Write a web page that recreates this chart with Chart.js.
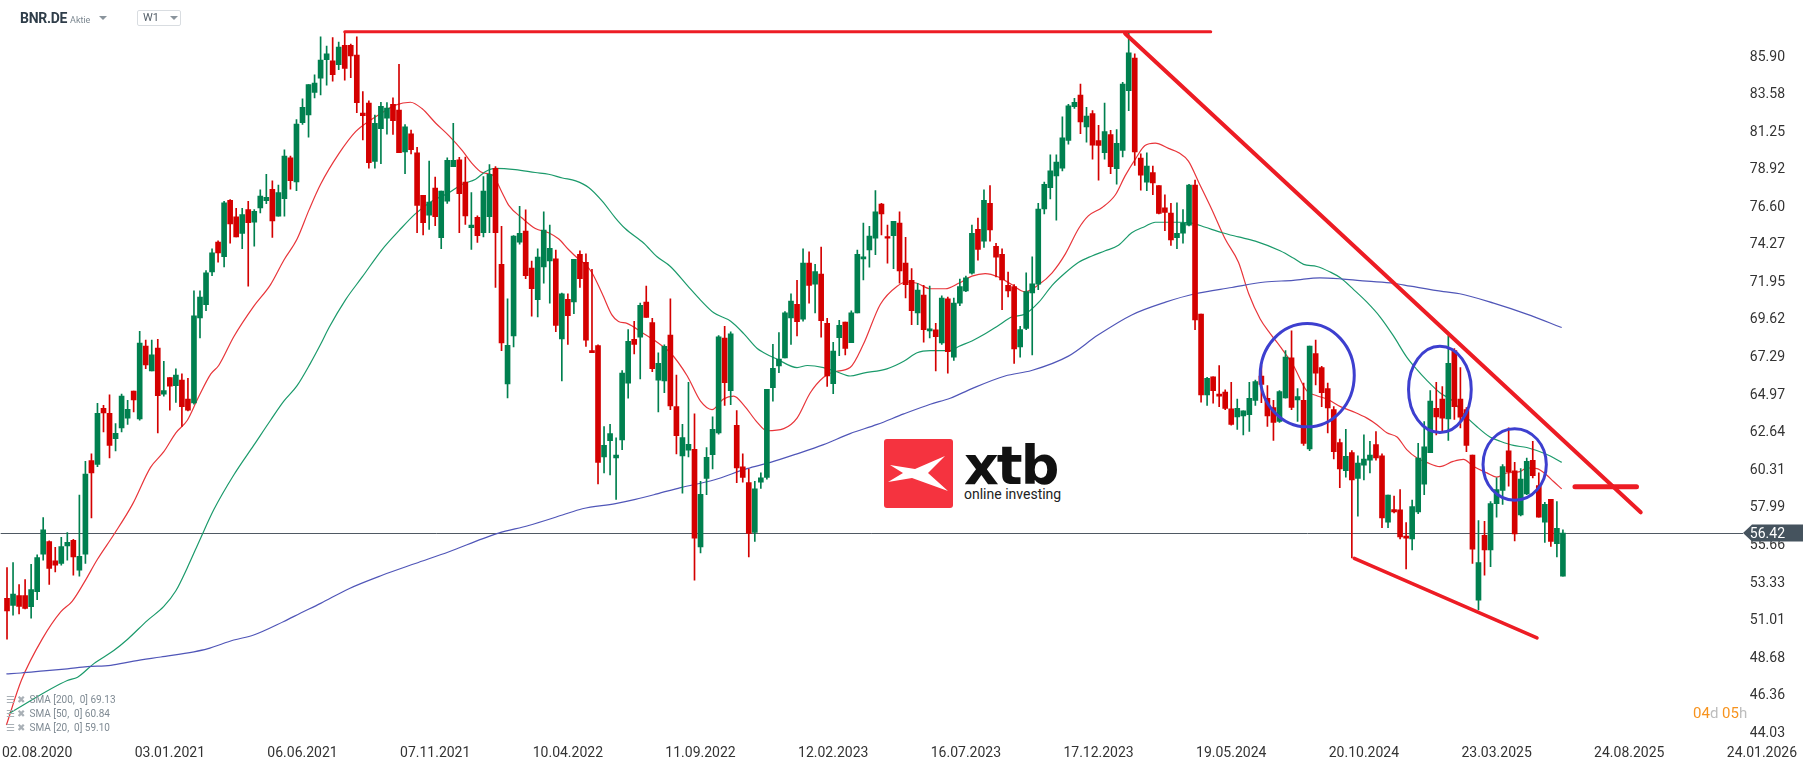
<!doctype html>
<html lang="de">
<head>
    <meta charset="utf-8">
    <title>BNR.DE - W1</title>
    <script src="https://cdn.jsdelivr.net/npm/chart.js"></script>
    <style>
        html, body { margin: 0; padding: 0; background: #fff; }
        body { width: 1815px; height: 759px; position: relative; overflow: hidden; font-family: Roboto, "Noto Sans", sans-serif; }
        #box { position: absolute; left: 0; top: 0; width: 1815px; height: 759px; z-index: 1; }
        #logo { position: absolute; left: 884px; top: 439px; z-index: 0; }
        #logo svg { position: absolute; left: 0; top: 0; }
        #logo .brand { position: absolute; left: 80px; top: 0; font: bold 54px "DejaVu Sans", sans-serif; line-height: 1; letter-spacing: -2px; color: #111; }
        #logo .sub { position: absolute; left: 80px; top: 48px; font: 14px Roboto, sans-serif; line-height: 1; color: #222; white-space: nowrap; }
        #hdr { position: absolute; left: 20px; top: 10px; z-index: 2; white-space: nowrap; line-height: 16px; }
        #hdr .sym { font: bold 14px Roboto, sans-serif; color: #2f3d49; letter-spacing: -0.3px; }
        #hdr .kind { font: 9px Roboto, sans-serif; color: #7b8790; margin-left: 3px; }
        .tri { display: inline-block; width: 0; height: 0; border-left: 4px solid transparent; border-right: 4px solid transparent; border-top: 4px solid #8a949c; vertical-align: 3px; }
        #hdr .tri { margin-left: 9px; }
        #tf { position: absolute; left: 137px; top: 10px; width: 42px; height: 14px; border: 1px solid #d9dde1; border-radius: 2px; z-index: 2; }
        #tf span { position: absolute; left: 5px; top: 1px; font: 11px Roboto, sans-serif; line-height: 1.1; color: #55606a; }
        #tf .tri { position: absolute; left: 32px; top: 5px; }
        #leg { position: absolute; left: 6px; top: 693px; z-index: 2; font: 10px Roboto, sans-serif; color: #7f8a93; line-height: 14px; }
        #leg div { white-space: nowrap; }
        #leg b { font-weight: normal; color: #a9b0b6; margin-right: 4px; }
        #timer { position: absolute; left: 1693px; top: 706px; z-index: 2; font: 15px Roboto, sans-serif; line-height: 1; white-space: nowrap; }
        #timer .n { color: #f7931e; }
        #timer .u { color: #bdbdbd; }
    </style>
</head>
<body>
<div id="logo">
    <svg width="69" height="69" viewBox="0 0 69 69">
        <rect width="69" height="69" rx="3" fill="#f5333f"/>
        <polygon points="6,26 31,30 61,17 44,34 64,52 28,39 4,43 19,34" fill="#fff"/>
    </svg>
    <div class="brand">xtb</div>
    <div class="sub">online investing</div>
</div>
<div id="box"><canvas id="chart"></canvas></div>
<div id="hdr"><span class="sym">BNR.DE</span><span class="kind">Aktie</span><span class="tri"></span></div>
<div id="tf"><span>W1</span><i class="tri"></i></div>
<div id="leg">
    <div><b>&#9776; &#10006;</b>SMA [200,&nbsp; 0] 69.13</div>
    <div><b>&#9776; &#10006;</b>SMA [50,&nbsp; 0] 60.84</div>
    <div><b>&#9776; &#10006;</b>SMA [20,&nbsp; 0] 59.10</div>
</div>
<div id="timer"><span class="n">04</span><span class="u">d</span> <span class="n">05</span><span class="u">h</span></div>

<script>
    // weekly candles, first one is 5 weeks before 02.08.2020 (week 0)
    const firstWeek = -5;

    const candleOpen = [
        52.38, 51.94, 52.56, 52.56, 51.86, 52.80, 55.12, 55.90, 54.70, 54.55,
        55.62, 55.98, 54.13, 55.12, 60.91, 60.67, 64.14, 63.83, 62.27, 62.94,
        63.54, 65.21, 63.49, 68.00, 66.47, 67.87, 65.03, 66.05, 65.55, 65.89,
        64.72, 64.48, 69.75, 70.56, 72.59, 74.44, 73.53, 77.03, 76.01, 74.97,
        76.45, 75.67, 76.56, 77.00, 77.71, 76.04, 77.13, 79.66, 78.17, 81.83,
        82.32, 83.70, 84.59, 85.74, 85.66, 85.43, 86.62, 86.62, 86.02, 82.43,
        83.05, 79.43, 81.46, 82.11, 82.97, 82.61, 80.03, 81.15, 79.97, 77.34,
        76.11, 77.78, 74.71, 76.97, 79.11, 79.53, 78.15, 75.33, 75.98, 75.02,
        76.01, 79.01, 73.06, 65.66, 68.63, 74.44, 75.12, 72.83, 70.87, 72.91,
        73.27, 73.40, 68.45, 70.90, 70.74, 73.69, 73.19, 67.72, 68.03, 61.14,
        62.14, 61.07, 62.19, 65.71, 68.42, 68.55, 70.72, 69.46, 65.89, 65.84,
        68.68, 64.25, 61.20, 61.56, 61.61, 55.56, 59.81, 61.27, 62.63, 68.50,
        65.24, 63.10, 60.52, 59.55, 56.47, 59.58, 59.87, 65.42, 66.78, 67.27,
        69.75, 70.58, 69.67, 73.14, 71.84, 72.46, 69.41, 65.68, 68.52, 69.49,
        68.21, 70.06, 73.40, 73.95, 74.68, 76.79, 74.78, 74.84, 75.62, 73.14,
        72.07, 70.06, 71.16, 68.94, 69.00, 68.19, 70.92, 67.32, 70.66, 71.42,
        72.52, 75.23, 74.50, 76.84, 74.18, 73.69, 71.76, 71.68, 67.95, 69.10,
        71.29, 71.84, 76.50, 77.81, 78.54, 79.01, 80.73, 82.82, 83.55, 81.57,
        82.40, 80.73, 79.97, 81.10, 78.98, 80.11, 83.81, 85.84, 79.64, 78.15,
        78.75, 77.94, 76.56, 76.24, 74.71, 74.99, 75.49, 77.97, 69.98, 64.98,
        66.10, 65.03, 65.16, 64.12, 63.62, 63.67, 63.75, 64.64, 66.15, 64.77,
        64.20, 63.33, 64.79, 67.27, 64.67, 64.64, 61.64, 67.53, 66.67, 65.37,
        64.07, 62.03, 60.28, 61.40, 59.81, 60.62, 60.93, 61.90, 61.20, 57.10,
        57.88, 57.86, 56.24, 56.06, 57.73, 59.45, 61.40, 64.14, 64.72, 63.49,
        67.72, 64.72, 64.07, 61.25, 52.27, 56.29, 55.38, 58.25, 59.06, 61.51,
        60.28, 57.54, 58.85, 60.93, 59.37, 57.10, 58.51, 55.77, 53.76
    ];
    const candleHigh = [
        54.29, 54.60, 53.24, 53.55, 54.49, 55.07, 57.39, 55.95, 55.54, 56.16,
        56.45, 56.03, 58.77, 60.86, 61.33, 64.46, 64.33, 64.98, 63.20, 65.03,
        64.64, 65.21, 68.92, 68.37, 68.37, 68.42, 67.06, 66.05, 66.60, 66.28,
        66.00, 71.42, 71.42, 72.67, 74.03, 74.52, 76.97, 77.08, 76.53, 76.53,
        76.97, 76.45, 77.68, 78.64, 78.23, 77.97, 80.16, 79.77, 82.03, 83.31,
        84.20, 84.80, 87.15, 86.57, 87.10, 86.83, 87.41, 86.70, 87.15, 83.76,
        83.18, 82.30, 83.10, 83.08, 83.37, 85.45, 81.72, 81.38, 80.31, 77.34,
        79.45, 78.46, 77.60, 79.66, 81.80, 79.69, 79.71, 77.50, 76.06, 78.49,
        79.24, 79.11, 75.41, 70.92, 74.84, 76.66, 76.43, 73.27, 74.03, 76.32,
        75.49, 73.95, 71.29, 71.24, 73.38, 73.90, 73.71, 72.75, 68.08, 63.02,
        63.15, 62.32, 66.49, 69.02, 69.54, 70.66, 71.71, 69.72, 67.59, 68.08,
        70.92, 66.20, 63.15, 65.76, 63.80, 59.63, 61.72, 63.62, 68.65, 69.23,
        68.89, 64.01, 61.33, 60.39, 59.63, 60.15, 65.32, 68.11, 68.84, 70.14,
        71.24, 72.07, 74.03, 73.84, 73.06, 74.13, 69.72, 68.24, 69.59, 69.49,
        70.19, 73.95, 75.62, 75.41, 77.63, 76.84, 75.49, 75.72, 76.32, 74.73,
        72.80, 71.89, 71.76, 71.71, 69.41, 71.11, 71.03, 70.98, 72.15, 72.33,
        75.49, 75.93, 77.68, 77.94, 74.37, 74.03, 72.59, 71.81, 69.23, 72.54,
        73.53, 76.84, 78.15, 79.84, 79.84, 82.19, 82.97, 83.34, 84.23, 82.79,
        82.58, 81.67, 83.05, 81.36, 81.41, 84.33, 87.41, 86.10, 79.90, 79.97,
        79.14, 77.94, 77.37, 76.84, 76.87, 76.45, 78.02, 78.28, 69.98, 66.07,
        66.10, 66.80, 65.29, 65.76, 64.72, 63.99, 65.76, 65.89, 66.80, 65.55,
        64.64, 65.24, 67.72, 68.94, 65.37, 65.71, 68.00, 68.37, 66.75, 65.71,
        64.25, 62.24, 62.84, 61.53, 61.20, 62.50, 62.11, 62.71, 61.33, 58.77,
        58.72, 59.11, 57.07, 58.46, 61.98, 63.33, 65.24, 65.76, 65.50, 68.63,
        67.85, 66.67, 64.20, 61.25, 57.20, 57.15, 58.38, 59.84, 60.67, 62.94,
        60.80, 60.41, 61.07, 62.11, 60.15, 58.33, 58.51, 58.38, 56.63
    ];
    const candleLow = [
        49.85, 51.34, 51.42, 51.72, 51.15, 52.30, 54.75, 53.24, 54.02, 54.44,
        54.75, 53.81, 53.76, 54.55, 57.36, 60.54, 62.68, 61.07, 61.51, 62.68,
        63.15, 63.93, 63.41, 66.60, 66.47, 62.63, 64.90, 64.04, 64.51, 63.02,
        63.99, 64.40, 68.50, 70.19, 72.36, 73.19, 72.91, 74.37, 74.76, 74.03,
        71.71, 74.18, 76.25, 76.82, 74.73, 76.04, 76.04, 77.71, 77.63, 81.72,
        80.94, 83.37, 83.55, 84.15, 84.41, 85.11, 84.46, 84.62, 82.45, 80.76,
        79.01, 79.01, 79.30, 81.12, 81.10, 79.97, 78.67, 79.90, 75.02, 74.89,
        75.23, 75.46, 74.03, 76.84, 79.11, 75.02, 75.54, 73.98, 74.42, 74.76,
        75.02, 71.63, 67.72, 64.79, 67.95, 74.31, 72.18, 69.86, 69.80, 71.89,
        70.66, 68.89, 65.84, 68.11, 70.01, 71.63, 67.98, 67.59, 59.47, 60.15,
        60.02, 58.51, 61.59, 64.77, 67.51, 65.97, 69.78, 66.41, 63.93, 65.11,
        64.07, 61.33, 58.90, 61.14, 53.50, 55.20, 58.80, 60.39, 62.55, 64.33,
        64.38, 59.55, 59.58, 54.94, 55.90, 59.19, 59.76, 64.59, 66.36, 67.27,
        68.11, 68.63, 69.54, 70.66, 70.06, 68.55, 65.50, 65.06, 67.40, 67.46,
        68.21, 70.06, 72.10, 72.88, 73.66, 74.89, 73.14, 72.80, 71.89, 70.98,
        69.33, 69.33, 68.24, 68.50, 66.46, 68.11, 66.33, 67.12, 70.51, 71.37,
        72.46, 73.32, 74.11, 74.50, 72.28, 70.25, 71.05, 66.93, 67.32, 69.02,
        67.46, 71.50, 76.19, 77.11, 75.80, 78.85, 80.50, 82.71, 81.15, 80.63,
        79.58, 78.28, 79.58, 78.67, 78.02, 79.71, 82.58, 79.19, 77.65, 77.63,
        77.37, 76.19, 75.15, 74.24, 74.03, 74.37, 75.44, 69.02, 64.53, 64.33,
        64.46, 64.25, 64.07, 63.10, 62.84, 62.50, 62.71, 64.33, 64.50, 63.02,
        62.16, 63.28, 64.77, 64.07, 63.33, 61.85, 61.53, 65.60, 64.25, 62.63,
        61.01, 59.24, 59.89, 54.88, 57.47, 59.71, 60.15, 60.93, 56.76, 56.76,
        57.67, 56.06, 54.21, 55.38, 57.62, 58.80, 61.40, 62.50, 62.76, 62.16,
        63.46, 62.94, 61.46, 54.55, 51.67, 53.81, 54.34, 57.41, 58.20, 59.32,
        55.93, 57.49, 58.80, 59.84, 57.41, 55.85, 55.59, 54.94, 53.76
    ];
    const candleClose = [
        51.60, 52.64, 51.88, 51.75, 52.93, 54.91, 56.63, 54.23, 54.44, 55.59,
        55.85, 54.94, 54.99, 60.07, 60.15, 63.83, 63.86, 61.85, 62.60, 64.90,
        64.09, 64.67, 68.19, 66.83, 67.46, 64.93, 65.24, 65.52, 66.20, 64.25,
        64.04, 69.88, 71.03, 72.54, 73.77, 73.77, 76.87, 75.57, 74.76, 76.14,
        75.65, 76.35, 77.29, 77.21, 75.75, 77.50, 79.77, 78.25, 81.75, 82.79,
        84.20, 84.28, 85.71, 86.10, 84.80, 86.52, 85.19, 85.97, 83.08, 82.27,
        79.35, 81.80, 82.84, 82.74, 81.96, 79.97, 81.57, 80.16, 76.71, 75.65,
        76.92, 76.01, 77.60, 79.50, 79.50, 77.44, 76.06, 75.49, 74.84, 77.60,
        78.64, 75.02, 68.19, 68.05, 74.81, 74.99, 72.36, 71.55, 73.51, 75.18,
        74.05, 69.28, 71.24, 69.88, 73.38, 72.18, 68.37, 67.59, 60.80, 61.85,
        62.58, 61.25, 66.33, 68.29, 68.11, 70.53, 69.78, 66.60, 66.93, 67.98,
        64.30, 62.45, 62.34, 61.92, 56.11, 58.82, 61.12, 62.84, 68.58, 65.73,
        68.76, 60.46, 59.87, 56.40, 59.16, 59.84, 65.32, 66.62, 67.19, 70.06,
        70.79, 69.52, 73.14, 71.76, 72.62, 69.57, 66.15, 67.69, 69.28, 67.85,
        70.06, 73.69, 73.53, 74.81, 76.32, 76.19, 74.68, 75.72, 72.65, 71.81,
        70.19, 71.47, 69.02, 69.07, 68.58, 70.98, 67.66, 70.66, 71.68, 72.23,
        74.99, 73.98, 77.03, 75.20, 73.51, 72.10, 71.42, 67.82, 69.02, 71.37,
        71.86, 76.48, 78.02, 78.85, 79.40, 80.89, 82.87, 83.10, 81.88, 82.24,
        80.44, 80.42, 81.28, 79.11, 80.55, 84.23, 86.16, 80.03, 78.59, 79.14,
        78.10, 76.22, 76.27, 74.58, 74.99, 75.62, 77.97, 69.62, 64.98, 66.00,
        65.24, 64.90, 64.14, 63.15, 64.14, 63.99, 64.77, 65.81, 65.63, 63.67,
        63.28, 65.19, 67.32, 64.20, 64.87, 61.98, 68.00, 66.33, 65.11, 64.17,
        61.46, 60.39, 61.17, 59.71, 60.75, 61.01, 61.25, 61.07, 57.36, 58.77,
        57.73, 56.19, 56.11, 58.07, 61.07, 61.77, 64.59, 63.62, 63.54, 66.93,
        64.25, 63.60, 61.85, 55.43, 54.60, 55.38, 58.25, 59.11, 60.54, 60.23,
        56.37, 59.76, 60.86, 59.97, 57.41, 58.20, 55.90, 56.71, 56.42
    ];

    // moving averages (week, price)
    const sma20Week = [
        -5.1, -2.6, 0.9, 3.9, 5.8, 7.8, 10.0, 12.7, 15.8, 18.8, 21.0, 23.0, 24.9, 26.6, 28.8, 30.1, 32.6, 35.9, 38.7, 40.9, 43.1, 45.1, 47.0,
        50.0, 52.8, 55.0, 57.2, 59.4, 61.9, 63.8, 66.1, 68.3, 70.5, 72.1, 73.8, 75.5, 77.1, 78.2, 80.4, 82.6, 84.8, 86.5, 88.1, 89.8, 90.9, 92.0, 93.7, 95.3, 96.4, 97.8,
        100.6, 102.8, 105.0, 107.8, 110.0, 111.9, 113.8, 115.5, 117.2, 119.4, 121.0, 123.8, 126.0, 128.2, 130.4, 132.1, 134.8, 137.0, 139.8, 142.6, 144.2, 145.9, 148.1, 150.6,
        152.8, 155.0, 157.2, 159.4, 161.6, 163.8, 166.1, 168.3, 170.5, 172.7, 174.3, 176.6, 178.8, 180.4, 182.1, 183.7, 185.4, 187.6, 189.3, 190.9, 192.6, 194.8, 197.0, 199.2, 200.9, 202.8,
        204.5, 206.1, 208.3, 210.5, 212.2, 213.9, 216.1, 218.3, 220.5, 222.1, 223.8, 225.5, 227.1, 228.8, 230.4, 232.6, 234.8, 236.5, 238.2, 240.4, 242.0, 243.7, 245.9, 247.0, 248.7, 250.3, 251.4, 252.8
    ];
    const sma20Value = [
        44.54, 47.32, 49.90, 51.54, 52.20, 53.37, 54.80, 56.32, 58.20, 60.49, 61.46, 62.63, 63.41, 64.72, 66.28, 66.80, 68.58, 70.46, 71.81, 73.32, 74.63, 76.45, 78.02,
        79.90, 81.28, 81.93, 82.45, 82.92, 83.10, 82.71, 81.80, 81.02, 80.11, 79.32, 78.75, 78.59, 77.50, 76.71, 75.93, 75.28, 75.02, 74.63, 73.98, 73.38, 73.06, 72.54, 71.24, 69.93, 69.52, 69.41,
        68.76, 68.24, 67.59, 66.15, 64.59, 64.07, 64.72, 64.90, 64.33, 63.28, 62.76, 62.89, 63.54, 65.11, 66.07, 66.41, 66.67, 68.11, 70.58, 71.71, 71.97, 71.89, 71.55, 71.55,
        71.89, 72.33, 72.49, 72.28, 71.81, 71.37, 71.81, 72.54, 73.71, 75.28, 76.06, 76.58, 77.37, 78.54, 79.58, 80.42, 80.57, 80.24, 79.97, 79.45, 78.15, 76.45, 74.63, 73.19, 71.24, 69.68,
        68.76, 67.98, 66.80, 65.24, 64.93, 64.72, 64.25, 63.93, 63.54, 63.15, 62.63, 62.37, 61.59, 61.07, 60.80, 60.54, 60.86, 60.99, 60.54, 60.15, 59.89, 60.15, 60.23, 60.46, 60.41, 60.02, 59.63, 59.16
    ];
    const sma50Week = [
        -4.8, 5.0, 6.7, 9.4, 12.7, 15.0, 18.3, 21.0, 23.0, 24.9, 27.1, 29.3, 32.6, 35.9, 38.7, 40.9, 43.1, 45.3, 47.0,
        48.4, 51.1, 53.9, 57.2, 60.0, 62.7, 65.5, 68.3, 70.5, 72.7, 74.3, 76.0, 79.3, 82.6, 84.8, 87.1, 89.3, 91.5, 93.7, 95.9, 97.5,
        100.6, 102.8, 105.0, 107.8, 110.0, 112.2, 115.0, 117.2, 119.4, 120.5, 122.7, 126.0, 127.7, 130.4, 132.6, 134.8, 137.0, 140.9, 143.7, 145.9, 148.1, 151.4,
        152.8, 155.0, 157.2, 159.4, 161.6, 163.8, 166.1, 168.3, 170.5, 172.7, 174.9, 177.1, 179.3, 181.5, 183.7, 185.4, 189.3, 191.5, 193.7, 196.5, 199.2, 202.0,
        206.1, 208.3, 210.0, 212.2, 214.4, 216.1, 218.3, 220.5, 222.7, 224.9, 227.1, 228.8, 230.4, 232.6, 234.8, 236.5, 238.7, 240.9, 242.6, 244.8, 247.0, 249.2, 250.9, 252.8
    ];
    const sma50Value = [
        45.22, 47.29, 47.50, 48.34, 49.15, 49.85, 51.02, 51.88, 52.85, 54.28, 56.11, 57.88, 60.02, 61.85, 63.41, 64.59, 65.55, 66.93, 68.11,
        69.15, 70.85, 72.28, 73.98, 75.15, 76.19, 76.98, 77.50, 78.02, 78.33, 78.80, 79.01, 78.93, 78.75, 78.64, 78.41, 78.23, 77.81, 76.98, 75.93, 75.28,
        74.37, 73.53, 72.93, 71.76, 70.85, 70.06, 69.54, 68.76, 67.85, 67.59, 67.19, 66.67, 66.80, 66.67, 66.41, 66.15, 66.33, 66.59, 67.06, 67.59, 67.72, 67.72,
        67.98, 68.32, 68.76, 69.28, 69.80, 69.98, 70.72, 71.76, 72.54, 73.19, 73.58, 73.90, 74.24, 75.02, 75.41, 75.67, 75.67, 75.62, 75.36, 75.02, 74.76, 74.50,
        73.90, 73.45, 73.06, 72.93, 72.59, 72.23, 71.50, 70.72, 69.80, 68.63, 67.32, 66.54, 65.89, 65.11, 64.59, 63.80, 63.02, 62.37, 62.11, 61.85, 61.72, 61.46, 61.20, 60.80
    ];
    const sma200Week = [
        -5.1, -2.7, 1.1, 5.0, 8.3, 12.2, 16.0, 20.5, 26.0, 28.2, 32.6, 35.9, 40.9, 43.7, 47.0,
        51.7, 57.2, 62.7, 68.3, 73.8, 76.5, 81.5, 87.1, 90.4, 95.9, 99.2,
        102.8, 106.7, 112.2, 117.7, 121.6, 126.0, 130.4, 134.8, 139.3, 143.7, 148.1, 151.4,
        155.0, 160.5, 164.9, 171.0, 175.9, 181.5, 187.1, 192.0, 198.1, 203.6,
        208.3, 212.7, 216.6, 220.5, 224.9, 227.7, 233.2, 235.9, 241.5, 247.0, 252.8
    ];
    const sma200Value = [
        47.71, 47.76, 47.89, 48.02, 48.15, 48.23, 48.49, 48.75, 49.07, 49.25, 49.80, 50.11, 50.95, 51.47, 52.07,
        52.98, 53.81, 54.54, 55.27, 56.06, 56.42, 56.89, 57.54, 57.93, 58.25, 58.51,
        58.85, 59.24, 59.71, 60.41, 60.80, 61.33, 61.90, 62.58, 63.15, 63.80, 64.40, 64.77,
        65.37, 66.15, 66.49, 67.38, 68.68, 69.93, 70.72, 71.24, 71.63, 71.97,
        72.07, 72.23, 72.15, 72.02, 71.89, 71.71, 71.37, 71.24, 70.66, 69.98, 69.15
    ];

    // drawn trend lines: [startWeek, startPrice, endWeek, endPrice]
    const topLine = [51.0, 87.46, 194.6, 87.46];
    const downLine = [180.4, 87.36, 265.9, 57.71];
    const levelLine = [255.0, 59.29, 265.2, 59.29];
    const lowLine = [218.4, 54.86, 248.7, 49.93];

    // blue circles: centre week, centre price, half width (weeks), half height (price)
    const circleWeek = [210.6, 232.6, 245.0];
    const circlePrice = [66.20, 65.32, 60.67];
    const circleHalfW = [7.8, 5.2, 5.25];
    const circleHalfH = [3.2, 2.67, 2.22];

    const xTickWeeks = [0, 22, 44, 66, 88, 110, 132, 154, 176, 198, 220, 242, 264, 286];
    const xTickLabels = ['02.08.2020', '03.01.2021', '06.06.2021', '07.11.2021', '10.04.2022', '11.09.2022', '12.02.2023',
        '16.07.2023', '17.12.2023', '19.05.2024', '20.10.2024', '23.03.2025', '24.08.2025', '24.01.2026'];
    const yTickValues = [44.03, 46.36, 48.68, 51.01, 53.33, 55.66, 57.99, 60.31, 62.64, 64.97, 67.29, 69.62, 71.95, 74.27, 76.60, 78.92, 81.25, 83.58, 85.90];
    const currentPrice = 56.42;

    const UP = '#00804f';
    const DOWN = '#d40000';
    const TREND = '#ed1c24';
    const AXIS_FONT = {family: "'Liberation Sans Narrow', Roboto, sans-serif", size: 14};

    var weeks = candleOpen.map(function (v, i) { return firstWeek + i; });
    var colors = candleOpen.map(function (o, i) { return candleClose[i] >= o ? UP : DOWN; });

    function pts(xs, ys) {
        return xs.map(function (x, i) { return {x: x, y: ys[i]}; });
    }
    function seg(a) {
        return [{x: a[0], y: a[1]}, {x: a[2], y: a[3]}];
    }
    function trend(data, width) {
        return {data: data, borderColor: TREND, borderWidth: width, pointRadius: 0, borderCapStyle: 'round', order: 1};
    }
    function sma(data, color) {
        return {data: data, borderColor: color, borderWidth: 1.2, pointRadius: 0, cubicInterpolationMode: 'monotone', order: 6};
    }

    var extras = {
        id: 'extras',
        beforeDatasetsDraw: function (chart) {
            var c = chart.ctx, a = chart.chartArea, y = chart.scales.y;
            var py = Math.round(y.getPixelForValue(currentPrice)) + 0.5;
            c.save();
            c.strokeStyle = '#4f5963';
            c.lineWidth = 1;
            c.beginPath();
            c.moveTo(a.left, py);
            c.lineTo(a.right - 72, py);
            c.stroke();
            c.restore();
        },
        afterDatasetsDraw: function (chart) {
            var c = chart.ctx, x = chart.scales.x, y = chart.scales.y;
            c.save();
            c.strokeStyle = '#3d3fcf';
            c.lineWidth = 3;
            for (var i = 0; i < circleWeek.length; i++) {
                var cx = x.getPixelForValue(circleWeek[i]);
                var cy = y.getPixelForValue(circlePrice[i]);
                var rx = x.getPixelForValue(circleWeek[i] + circleHalfW[i]) - cx;
                var ry = cy - y.getPixelForValue(circlePrice[i] + circleHalfH[i]);
                c.beginPath();
                c.ellipse(cx, cy, rx, ry, 0, 0, Math.PI * 2);
                c.stroke();
            }
            c.restore();
        },
        afterDraw: function (chart) {
            var c = chart.ctx, a = chart.chartArea, y = chart.scales.y;
            var py = Math.round(y.getPixelForValue(currentPrice));
            var tip = a.right - 72, l = a.right - 63, r = a.right - 12;
            c.save();
            c.fillStyle = '#45535e';
            c.beginPath();
            c.moveTo(tip, py);
            c.lineTo(l, py - 8.5);
            c.lineTo(r, py - 8.5);
            c.lineTo(r, py + 8.5);
            c.lineTo(l, py + 8.5);
            c.closePath();
            c.fill();
            c.fillStyle = '#ffffff';
            c.font = "14px 'Liberation Sans Narrow', Roboto, sans-serif";
            c.textAlign = 'right';
            c.textBaseline = 'middle';
            c.fillText(currentPrice.toFixed(2), a.right - 30, py + 1);
            c.restore();
        }
    };

    var ctx = document.getElementById('chart');
    var chart = new Chart(ctx, {
        type: 'line',
        data: {
            datasets: [
                {
                    type: 'bar',
                    data: weeks.map(function (w, i) { return {x: w, y: [candleLow[i], candleHigh[i]]}; }),
                    backgroundColor: colors,
                    barThickness: 1,
                    grouped: false,
                    order: 4
                },
                {
                    type: 'bar',
                    data: weeks.map(function (w, i) { return {x: w, y: [candleOpen[i], candleClose[i]]}; }),
                    backgroundColor: colors,
                    barThickness: 5,
                    minBarLength: 1,
                    grouped: false,
                    order: 3
                },
                sma(pts(sma200Week, sma200Value), '#5056b8'),
                sma(pts(sma50Week, sma50Value), '#1b9a6b'),
                sma(pts(sma20Week, sma20Value), '#e8353a'),
                trend(seg(topLine), 3),
                trend(seg(downLine), 4),
                trend(seg(levelLine), 5),
                trend(seg(lowLine), 3.5)
            ]
        },
        options: {
            responsive: true,
            maintainAspectRatio: false,
            animation: false,
            layout: {padding: 0},
            scales: {
                x: {
                    type: 'linear',
                    min: -6.05,
                    max: 294.8,
                    offset: false,
                    grid: {display: false},
                    border: {display: false},
                    afterBuildTicks: function (s) { s.ticks = xTickWeeks.map(function (v) { return {value: v}; }); },
                    afterFit: function (s) { s.height = 24; },
                    ticks: {
                        autoSkip: false,
                        maxRotation: 0,
                        padding: 2,
                        color: '#333',
                        font: AXIS_FONT,
                        callback: function (v, i) { return xTickLabels[i]; }
                    }
                },
                y: {
                    type: 'linear',
                    position: 'right',
                    min: 43.92,
                    max: 89.43,
                    grid: {display: false},
                    border: {display: false},
                    afterBuildTicks: function (s) { s.ticks = yTickValues.map(function (v) { return {value: v}; }); },
                    afterFit: function (s) { s.width = 0; },
                    ticks: {
                        mirror: true,
                        padding: -30,
                        autoSkip: false,
                        color: '#333',
                        font: AXIS_FONT,
                        callback: function (v) { return v.toFixed(2); }
                    }
                }
            },
            plugins: {
                legend: {display: false},
                tooltip: {enabled: false},
                title: {display: false}
            }
        },
        plugins: [extras]
    });
</script>
</body>
</html>
